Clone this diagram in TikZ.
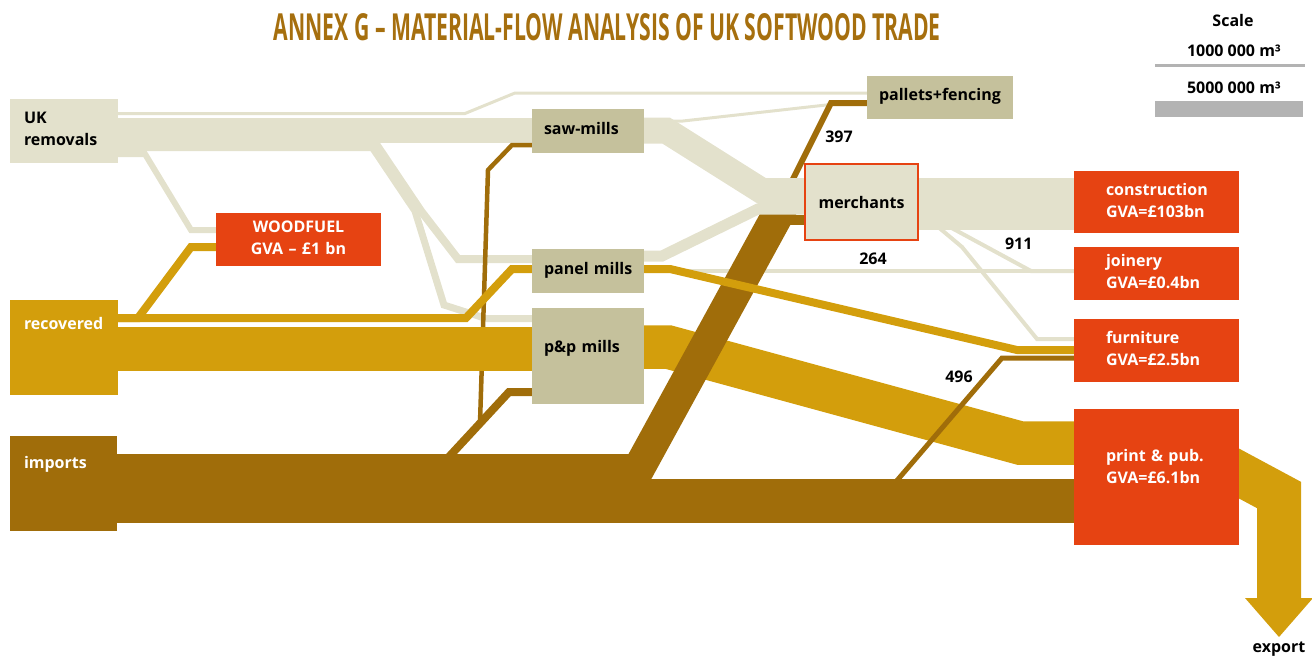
\documentclass[tikz,border=0pt]{standalone}
\usepackage{fontspec}
\setmainfont{Open Sans}
\usepackage{graphicx}
\usetikzlibrary{arrows.meta,backgrounds}
\definecolor{beigec}{HTML}{E3E1CC}
\definecolor{khakic}{HTML}{C5C19C}
\definecolor{goldc}{HTML}{D39E0C}
\definecolor{brownc}{HTML}{A06D0A}
\definecolor{redc}{HTML}{E64312}
\definecolor{titlec}{HTML}{A66F0E}
\definecolor{scalec}{HTML}{B3B3B3}

\begin{document}
\begin{tikzpicture}[x=1pt, y=-1pt,
    box/.style={rectangle, anchor=north west, inner ysep=0pt, outer sep=0pt,
      align=left, font=\fontsize{16pt}{22pt}\selectfont\bfseries, text height=12pt},
    srcbox/.style={box, minimum width=108pt, text width=80pt, inner xsep=14pt},
    millbox/.style={box, fill=khakic, text=black, minimum width=112pt, text width=88pt, inner xsep=12pt},
    endbox/.style={box, fill=redc, text=white, minimum width=165pt, text width=101pt, inner xsep=32pt},
    lbl/.style={anchor=base, inner sep=0pt, font=\fontsize{16pt}{22pt}\selectfont\bfseries},
    beigeflow/.style={draw=beigec, line width=#1},
    goldflow/.style={draw=goldc, line width=#1},
    brownflow/.style={draw=brownc, line width=#1}]
  \useasboundingbox (0,0) rectangle (1312,657);

  \node (title) [anchor=base west, inner sep=0pt, text=titlec] at (273.5,40)
    {\resizebox{667pt}{27pt}{\bfseries ANNEX G – MATERIAL-FLOW ANALYSIS OF UK SOFTWOOD TRADE}};

  % sources
  \node (ukrem) [srcbox, fill=beigec, text=black, minimum height=64pt, text depth=27.4pt] at (10,99) {UK\\removals};
  \node (recov) [srcbox, fill=goldc, text=white, minimum height=95pt, text depth=48.4pt] at (10,300) {recovered};
  \node (imports) [srcbox, fill=brownc, text=white, minimum width=107pt, text width=79pt, minimum height=95pt, text depth=42.4pt] at (10,436) {imports};

  % processing
  \node (woodfuel) [box, fill=redc, text=white, align=center, minimum width=165pt, text width=145pt, inner xsep=10pt,
    minimum height=53pt, text depth=25.6pt] at (216,213) {WOODFUEL\\GVA – £1 bn};
  \node (saw) [millbox, minimum height=44pt, text depth=6pt] at (532,109) {saw-mills};
  \node (panel) [millbox, minimum height=44pt, text depth=5.4pt] at (532,249) {\mbox{panel mills}};
  \node (pp) [millbox, minimum height=96pt, text depth=18.6pt] at (532,308) {p\&p mills};
  \node (pallets) [box, fill=khakic, text=black, minimum width=146pt, text width=122pt, inner xsep=12pt,
    minimum height=43pt, text depth=7pt] at (867,76) {pallets+fencing};
  \node (merch) [box, fill=beigec, draw=redc, line width=2pt, text=black, align=center, minimum width=113pt,
    text width=103pt, inner xsep=5pt, minimum height=76pt, text depth=0pt] at (805,164) {merchants};

  % users
  \node (constr) [endbox, minimum height=62pt, text depth=26pt] at (1074,171) {construction\\GVA=£103bn};
  \node (joinery) [endbox, minimum height=53pt, text depth=25.6pt] at (1074,247) {joinery\\GVA=£0.4bn};
  \node (furn) [endbox, minimum height=63pt, text depth=26.4pt] at (1074,319) {furniture\\GVA=£2.5bn};
  \node (print) [endbox, minimum height=136pt, text depth=42.6pt] at (1074,409) {print \& pub.\\GVA=£6.1bn};

  \node (export) [lbl] at (1279,652.7) {export};
  \node (n397) [lbl] at (839,142.7) {397};
  \node (n264) [lbl] at (873,264.3) {264};
  \node (n911) [lbl] at (1018.7,249) {911};
  \node (n496) [lbl] at (959,382.7) {496};

  % scale
  \node (scalehead) [lbl] at (1233,26) {Scale};
  \node (scaleone) [lbl] at (1234,56) {1000 000 m³};
  \node (scalefive) [lbl] at (1234,93) {5000 000 m³};
  \draw[draw=scalec, line width=2.5] (1155,65.5) -- (1305,65.5);
  \fill[scalec] (1155,101) rectangle (1303,117);

  \begin{scope}[on background layer]
    % thin beige flows
    \draw[beigeflow=3] (ukrem.east |- 0,113.5) -- (465,113.5) -- (515,93) -- (pallets.west |- 0,93);
    \draw[beigeflow=3] (saw.east |- 0,121) -- (683,121) -- (835,104) -- (pallets.west |- 0,104);
    \draw[beigeflow=4] (panel.east |- 0,271) -- (joinery.west |- 0,271);
    \draw[beigeflow=4] (merch.east |- 0,226) -- (948,226) -- (1031,271) -- (joinery.west |- 0,271);
    \draw[beigeflow=4] (merch.east |- 0,226) -- (937,226) -- (962,247) -- (1037,339) -- (furn.west |- 0,339);

    % UK removals
    \draw[beigeflow=25] (ukrem.east |- 0,130.5) -- (saw.west |- 0,130.5);
    \draw[beigeflow=6] (ukrem.east |- 0,154) -- (145,154) -- (191,230) -- (woodfuel.west |- 0,230);
    \draw[beigeflow=8] (ukrem.east |- 0,147) -- (378,147) -- (421,211) -- (458,259) -- (panel.west |- 0,259);
    \draw[beigeflow=7] (ukrem.east |- 0,147) -- (372,147) -- (415,211) -- (444,305) -- (486,318.5) -- (pp.west |- 0,318.5);

    % imports to the mills
    \draw[brownflow=8] (446,460) -- (509,392) -- (pp.west |- 0,392);
    \draw[brownflow=4.5] (480,423) -- (488,170) -- (512,145) -- (saw.west |- 0,145);

    % recovered
    \draw[goldflow=8] (recov.east |- 0,318) -- (138,318) -- (191,247) -- (woodfuel.west |- 0,247);
    \draw[goldflow=8] (recov.east |- 0,318) -- (466,318) -- (512,269) -- (panel.west |- 0,269);
    \draw[goldflow=44] (recov.east |- 0,348.5) -- (pp.west |- 0,348.5);
    \draw[goldflow=43.5] (pp.east |- 0,347) -- (668,347) -- (1020,443) -- (print.west |- 0,443);

    % imports
    \draw[brownflow=44] (imports.east |- 0,501) -- (print.west |- 0,501);
    \draw[brownflow=32] (imports.east |- 0,470) -- (638,470) -- (783,205);
    \draw[brownflow=10] (776,220) -- (merch.west |- 0,220);
    \draw[brownflow=6] (785,195) -- (831,103) -- (pallets.west |- 0,103);
    \draw[brownflow=5] (894,484) -- (1002,358) -- (furn.west |- 0,358);

    % into merchants and on
    \draw[beigeflow=26] (saw.east |- 0,130.5) -- (666,130.5) -- (762,191) -- (merch.west |- 0,191);
    \draw[beigeflow=11] (panel.east |- 0,256) -- (662,256) -- (758,209) -- (merch.west |- 0,209);
    \draw[beigeflow=52] (merch.east |- 0,204) -- (constr.west |- 0,204);

    \draw[goldflow=8] (panel.east |- 0,269) -- (670,269) -- (1017,350) -- (furn.west |- 0,350);
    \draw[goldflow=44, -{Triangle[width=68pt, length=39pt, line width=0pt]}]
      (print.east |- 0,473.5) ++(-19,-10.2) -- (1279,495) -- (export.base |- 0,637);
  \end{scope}
\end{tikzpicture}
\end{document}
